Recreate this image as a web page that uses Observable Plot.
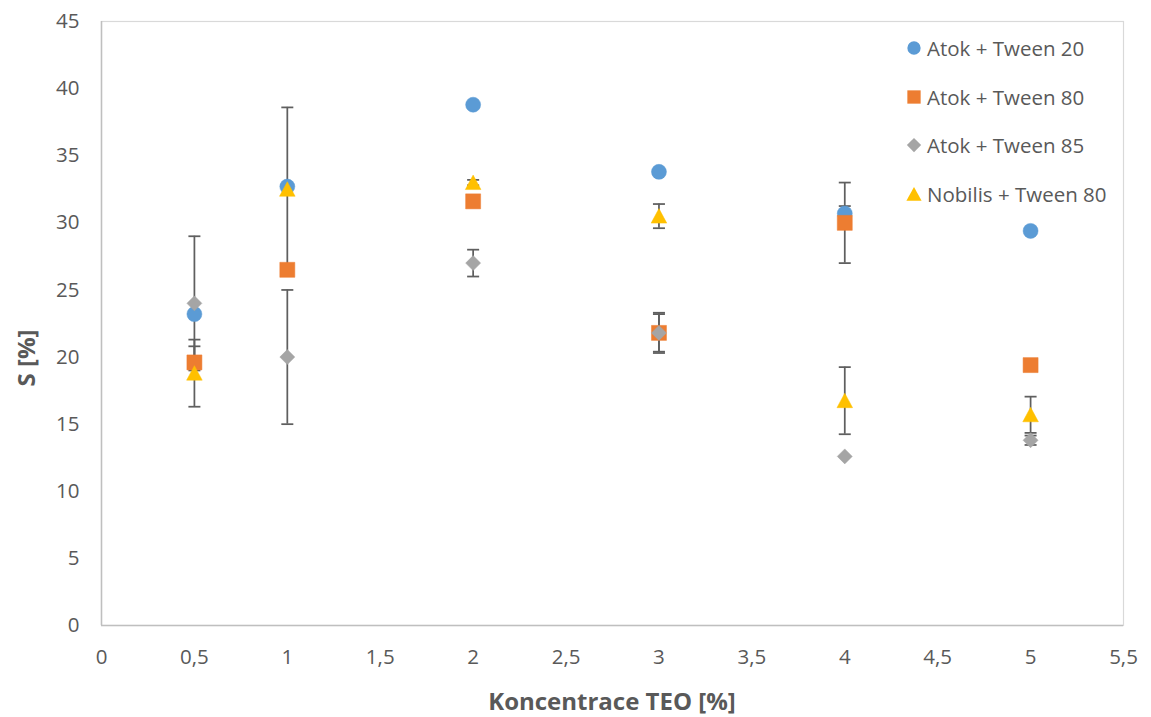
<!DOCTYPE html>
<html>
<head>
<meta charset="utf-8">
<script src="https://cdn.jsdelivr.net/npm/d3@7"></script>
<script src="https://cdn.jsdelivr.net/npm/@observablehq/plot@0.6"></script>
<style>
  html, body { margin: 0; padding: 0; background: #fff; }
  #wrap { position: relative; width: 1151px; height: 717px; font-family: "Open Sans", sans-serif; color: #595959; }
  #legend { position: absolute; left: 904px; top: 24px; font-size: 20.5px; }
  #legend .row { display: flex; align-items: center; height: 48.5px; line-height: 24px; }
  #legend svg { width: 20px; height: 20px; margin-right: 3px; }
  .title { position: absolute; font-weight: bold; font-size: 24px; color: #595959; white-space: nowrap; }
</style>
</head>
<body>
<div id="wrap">
  <div id="chart"></div>
  <div id="legend"></div>
  <div class="title" id="xtitle">Koncentrace TEO [%]</div>
  <div class="title" id="ytitle">S [%]</div>
</div>
<script>
// ---- data ----
const concentrations = [0.5, 1, 2, 3, 4, 5];
const seriesNames = ["Atok + Tween 20", "Atok + Tween 80", "Atok + Tween 85", "Nobilis + Tween 80"];
const seriesColors = ["#5B9BD5", "#ED7D31", "#A5A5A5", "#FFC000"];

const atokTween20 = [23.2, 32.7, 38.8, 33.8, 30.7, 29.4];
const atokTween20Err = [0, 0, 0, 0, 0.55, 0];
const atokTween80 = [19.6, 26.5, 31.6, 21.8, 30.0, 19.4];
const atokTween80Err = [1.2, 0, 0, 1.4, 3.0, 0];
const atokTween85 = [24.0, 20.0, 27.0, 21.8, 12.6, 13.8];
const atokTween85Err = [5.0, 5.0, 1.0, 1.5, 0, 0.35];
const nobilisTween80 = [18.8, 32.5, 33.0, 30.5, 16.75, 15.7];
const nobilisTween80Err = [2.5, 6.1, 0.2, 0.9, 2.5, 1.35];

const xTicks = [0, 0.5, 1, 1.5, 2, 2.5, 3, 3.5, 4, 4.5, 5, 5.5];
const yTicks = [0, 5, 10, 15, 20, 25, 30, 35, 40, 45];

// ---- build rows ----
const valueSets = [atokTween20, atokTween80, atokTween85, nobilisTween80];
const errSets = [atokTween20Err, atokTween80Err, atokTween85Err, nobilisTween80Err];
const rowsBySeries = valueSets.map((vals, i) =>
  vals.map((v, j) => ({series: seriesNames[i], x: concentrations[j], y: v, err: errSets[i][j]})));
const errRows = rowsBySeries.flat().filter(d => d.err > 0);

// ---- symbols ----
const circleSym = {draw(c) { c.moveTo(7.5, 0); c.arc(0, 0, 7.5, 0, 2 * Math.PI); c.closePath(); }};
const squareSym = {draw(c) { c.rect(-7.5, -7.5, 15, 15); }};
const diamondSym = {draw(c) { c.moveTo(0, -7.5); c.lineTo(7.5, 0); c.lineTo(0, 7.5); c.lineTo(-7.5, 0); c.closePath(); }};
const triangleSym = {draw(c) { c.moveTo(0, -7.5); c.lineTo(7.8, 7); c.lineTo(-7.8, 7); c.closePath(); }};
const capSym = {draw(c) { c.moveTo(-6, 0); c.lineTo(6, 0); }};
const symbols = [circleSym, squareSym, diamondSym, triangleSym];

const fmt = d => String(d).replace(".", ",");
const errColor = "#5F5F5F";

const chart = Plot.plot({
  width: 1151,
  height: 717,
  marginLeft: 101,
  marginRight: 28,
  marginTop: 21,
  marginBottom: 92,
  style: {fontFamily: "'Open Sans', sans-serif", fontSize: "20.5px", color: "#595959", background: "#fff"},
  x: {domain: [0, 5.5]},
  y: {domain: [0, 45]},
  marks: [
    Plot.frame({stroke: "#D9D9D9", strokeWidth: 1.2}),
    Plot.axisX({ticks: xTicks, tickFormat: fmt, tickSize: 0, tickPadding: 24, label: null}),
    Plot.axisY({ticks: yTicks, tickFormat: fmt, tickSize: 0, tickPadding: 22, label: null}),
    Plot.ruleX([0], {stroke: "#BFBFBF", strokeWidth: 1.5}),
    Plot.ruleY([0], {stroke: "#BFBFBF", strokeWidth: 1.5}),
    Plot.ruleX(errRows, {x: "x", y1: d => d.y - d.err, y2: d => d.y + d.err, stroke: errColor, strokeWidth: 1.75}),
    Plot.dot(errRows, {x: "x", y: d => d.y + d.err, symbol: capSym, fill: "none", stroke: errColor, strokeWidth: 1.75}),
    Plot.dot(errRows, {x: "x", y: d => d.y - d.err, symbol: capSym, fill: "none", stroke: errColor, strokeWidth: 1.75}),
    ...rowsBySeries.map((rows, i) =>
      Plot.dot(rows, {x: "x", y: "y", symbol: symbols[i], fill: seriesColors[i], stroke: seriesColors[i], strokeWidth: 0.5}))
  ]
});
document.getElementById("chart").appendChild(chart);

// ---- legend ----
const legend = d3.select("#legend");
seriesNames.forEach((name, i) => {
  const row = legend.append("div").attr("class", "row");
  const svg = row.append("svg").attr("viewBox", "-10 -10 20 20");
  const p = d3.path();
  const s = 0.95;
  if (i === 0) { p.moveTo(7 * s, 0); p.arc(0, 0, 7 * s, 0, 2 * Math.PI); }
  else if (i === 1) { p.rect(-7 * s, -7 * s, 14 * s, 14 * s); }
  else if (i === 2) { p.moveTo(0, -7.5 * s); p.lineTo(7.5 * s, 0); p.lineTo(0, 7.5 * s); p.lineTo(-7.5 * s, 0); p.closePath(); }
  else { p.moveTo(0, -7.5 * s); p.lineTo(8 * s, 7 * s); p.lineTo(-8 * s, 7 * s); p.closePath(); }
  svg.append("path").attr("d", p.toString()).attr("fill", seriesColors[i]);
  row.append("span").text(name);
});

// ---- axis titles ----
const xt = document.getElementById("xtitle");
xt.style.left = "612px"; xt.style.top = "700px"; xt.style.transform = "translate(-50%, -50%)";
const yt = document.getElementById("ytitle");
yt.style.left = "25px"; yt.style.top = "358px"; yt.style.transform = "translate(-50%, -50%) rotate(-90deg)";
</script>
</body>
</html>
